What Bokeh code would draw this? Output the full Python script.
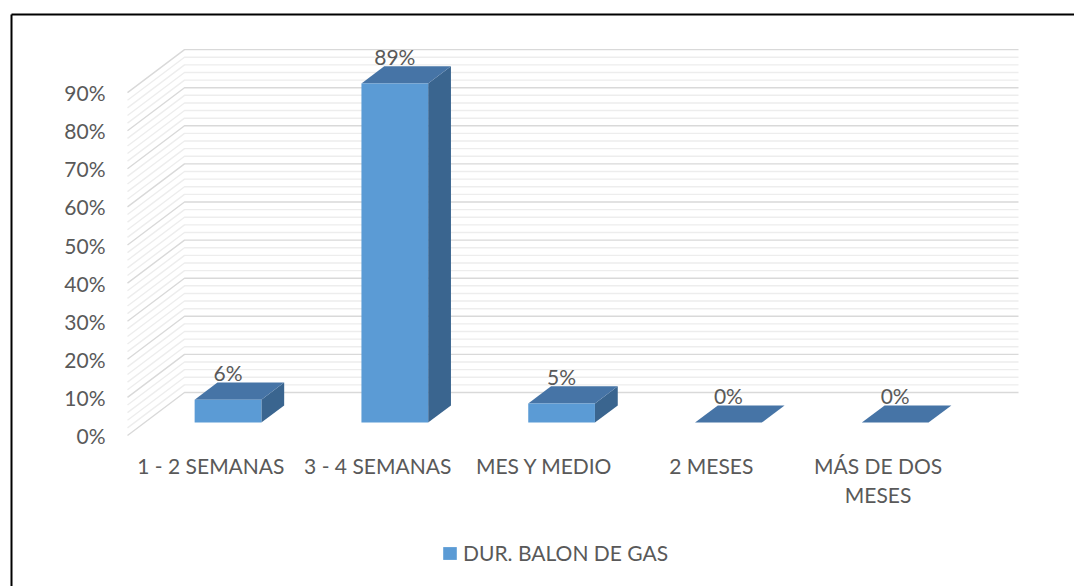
import textwrap
from bokeh.plotting import figure
from bokeh.models import Range1d, ColumnDataSource, Legend, LegendItem
from bokeh.core.properties import value
from bokeh.embed import file_html
from bokeh.resources import INLINE

# ---------------- data ----------------
categories = ["1 - 2 SEMANAS", "3 - 4 SEMANAS", "MES Y MEDIO", "2 MESES", "MÁS DE DOS MESES"]
values = [0.06, 0.89, 0.05, 0.0, 0.0]
value_labels = ["6%", "89%", "5%", "0%", "0%"]
y_ticks = [0.0, 0.1, 0.2, 0.3, 0.4, 0.5, 0.6, 0.7, 0.8, 0.9]
y_tick_labels = ["0%", "10%", "20%", "30%", "40%", "50%", "60%", "70%", "80%", "90%"]
minor_step = 0.02
series_name = "DUR. BALON DE GAS"

# ---------------- layout / style ----------------
W, H = 1074, 586
ORIGIN_X = 127.0      # front-left floor corner, px from left
ORIGIN_Y = 435.0      # front-left floor corner, px from top
SLOT_PX = 166.8       # px per category slot
UNIT_PX = 381.0       # px per 1.0 (=100%)
DX = 57.0 / SLOT_PX   # depth offset of back wall (data units)
DY = 43.0 / UNIT_PX
F0, F1 = 0.3, 0.7     # bar depth span (fraction of floor depth)
B0, B1 = 0.3, 0.7     # bar width span (fraction of slot)

FONT = value("Lato")
TXT = "#595959"
FS = "21px"
FRONT = "#5B9BD5"
TOP = "#4674A6"
SIDE = "#3A658F"


def xd(px):
    return (px - ORIGIN_X) / SLOT_PX


def yd(py):
    return (ORIGIN_Y - py) / UNIT_PX


p = figure(width=W, height=H, output_backend="svg", toolbar_location=None,
           x_range=Range1d(xd(0), xd(W)), y_range=Range1d(yd(H), yd(0)),
           x_axis_type=None, y_axis_type=None, min_border=0)
p.outline_line_color = None
p.background_fill_color = "white"
p.border_fill_color = "white"

n = len(categories)

# ---------------- walls (gridlines on back & side wall) ----------------
nsteps = int(round(max(y_ticks) / minor_step))
minor_xs, minor_ys, major_xs, major_ys = [], [], [], []
for k in range(nsteps + 1):
    v = k * minor_step
    back_x = [0.0, DX, n + DX]
    back_y = [v, v + DY, v + DY]
    if k % 5 == 0:
        major_xs.append(back_x); major_ys.append(back_y)
    else:
        minor_xs.append(back_x); minor_ys.append(back_y)
p.multi_line(minor_xs, minor_ys, line_color="#EDEDED", line_width=1.4)
p.multi_line(major_xs, major_ys, line_color="#D9D9D9", line_width=1.4)

# ---------------- 3D bars ----------------
ddx = (F1 - F0) * DX
ddy = (F1 - F0) * DY
front_x, front_y, top_x, top_y, side_x, side_y = [], [], [], [], [], []
for i, v in enumerate(values):
    x0 = i + B0 + F0 * DX
    x1 = i + B1 + F0 * DX
    yb = F0 * DY
    yt = v + F0 * DY
    front_x.append([x0, x1, x1, x0]); front_y.append([yb, yb, yt, yt])
    top_x.append([x0, x1, x1 + ddx, x0 + ddx]); top_y.append([yt, yt, yt + ddy, yt + ddy])
    side_x.append([x1, x1 + ddx, x1 + ddx, x1]); side_y.append([yb, yb + ddy, yt + ddy, yt])

p.patches(side_x, side_y, fill_color=SIDE, line_color=None)
p.patches(top_x, top_y, fill_color=TOP, line_color=None)
front_r = p.patches(front_x, front_y, fill_color=FRONT, line_color=None)

# value labels
lab_src = ColumnDataSource(dict(
    x=[i + 0.5 + F0 * DX for i in range(n)],
    y=[v + F1 * DY + 10.0 / UNIT_PX for v in values],
    t=value_labels))
p.text(x="x", y="y", text="t", source=lab_src, text_align="center",
       text_baseline="middle", text_font=FONT, text_font_size=FS, text_color=TXT)

# y tick labels
tick_src = ColumnDataSource(dict(x=[xd(105)] * len(y_ticks), y=y_ticks, t=y_tick_labels))
p.text(x="x", y="y", text="t", source=tick_src, text_align="right",
       text_baseline="middle", text_font=FONT, text_font_size=FS, text_color=TXT)

# category labels (wrapped)
cx, cy, ct = [], [], []
for i, c in enumerate(categories):
    for j, line in enumerate(textwrap.wrap(c, width=14)):
        cx.append(i + 0.5)
        cy.append(yd(465 + 29 * j))
        ct.append(line)
cat_src = ColumnDataSource(dict(x=cx, y=cy, t=ct))
p.text(x="x", y="y", text="t", source=cat_src, text_align="center",
       text_baseline="middle", text_font=FONT, text_font_size=FS, text_color=TXT)

# chart border (left & top)
p.line([xd(11), xd(11)], [yd(14), yd(H + 20)], line_color="black", line_width=2)
p.line([xd(11), xd(W + 20)], [yd(14), yd(14)], line_color="black", line_width=2)

# legend
legend = Legend(items=[LegendItem(label=series_name, renderers=[front_r])],
                location=(441, 21), padding=0, margin=0, spacing=0,
                glyph_width=17, glyph_height=16, label_standoff=5,
                border_line_color=None, background_fill_alpha=0,
                label_text_font="Lato", label_text_font_size=FS,
                label_text_color=TXT)
p.add_layout(legend)

open("out.html", "w").write(file_html(p, INLINE))
